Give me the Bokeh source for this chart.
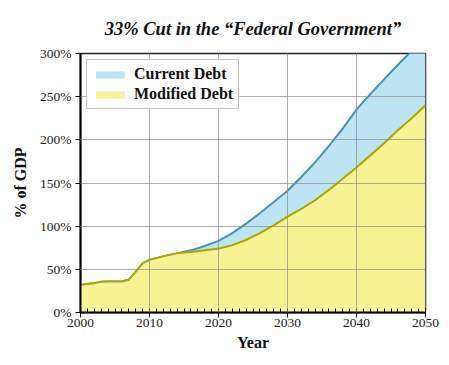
from bokeh.plotting import figure
from bokeh.models import Range1d, FixedTicker, Legend, LegendItem
from bokeh.embed import file_html
from bokeh.resources import INLINE

years = [2000, 2001, 2002, 2003, 2004, 2005, 2006, 2007, 2008, 2009, 2010,
         2011, 2012, 2013, 2014, 2015, 2016, 2017, 2018, 2019, 2020,
         2022, 2024, 2026, 2028, 2030, 2032, 2034, 2036, 2038, 2040,
         2042, 2044, 2046, 2048, 2050]
modified_debt = [32, 33, 34, 35.5, 36, 36, 36, 38, 47, 57, 61,
                 63, 65, 67, 68.5, 69.5, 70, 71, 72, 73, 74,
                 78, 84, 92, 101, 111, 120, 130, 142, 155, 168,
                 182, 196, 211, 225, 240]
current_debt = [32, 33, 34, 35.5, 36, 36, 36, 38, 47, 57, 61,
                63, 65, 67, 68.5, 70.5, 72, 74.5, 77, 80, 83,
                92, 103, 115, 128, 141, 157, 174, 193, 213, 235,
                253, 270, 287, 303, 320]

x_ticks = [2000, 2010, 2020, 2030, 2040, 2050]
x_tick_labels = ["2000", "2010", "2020", "2030", "2040", "2050"]
y_ticks = [0, 50, 100, 150, 200, 250, 300]
y_tick_labels = ["0%", "50%", "100%", "150%", "200%", "250%", "300%"]
minor_years = list(range(2000, 2051))

title_text = "33% Cut in the \u201cFederal Government\u201d"
serif = "Liberation Serif"

p = figure(width=449, height=365, output_backend="svg", toolbar_location=None,
           x_range=Range1d(2000, 2050), y_range=Range1d(0, 300),
           min_border_left=80, min_border_right=24, min_border_top=53,
           min_border_bottom=53)

p.title.text = title_text
p.title.align = "center"
p.title.text_font = serif
p.title.text_font_style = "bold italic"
p.title.text_font_size = "18.5px"
p.title.text_color = "#111111"
p.title.standoff = 29

blue = p.varea(x=years, y1=modified_debt, y2=current_debt,
               fill_color="#bde4f2", fill_alpha=1.0)
p.line(x=years, y=current_debt, line_color="#4d8fae", line_width=2)
yellow = p.varea(x=years, y1=[0] * len(years), y2=modified_debt,
                 fill_color="#f7f394", fill_alpha=1.0)
p.line(x=years, y=modified_debt, line_color="#a9a800", line_width=2)

p.xaxis.ticker = FixedTicker(ticks=x_ticks, minor_ticks=minor_years)
p.xaxis.major_label_overrides = dict(zip(x_ticks, x_tick_labels))
p.yaxis.ticker = FixedTicker(ticks=y_ticks, minor_ticks=[])
p.yaxis.major_label_overrides = dict(zip(y_ticks, y_tick_labels))

for ax in (p.xaxis, p.yaxis):
    ax.major_label_text_font = serif
    ax.major_label_text_font_size = "13.5px"
    ax.major_label_text_color = "#222222"
    ax.axis_label_text_font = serif
    ax.axis_label_text_font_style = "bold"
    ax.axis_label_text_font_size = "16px"
    ax.axis_label_text_color = "#111111"
    ax.axis_line_color = "black"
    ax.axis_line_width = 2
    ax.major_tick_line_color = "black"
    ax.major_tick_in = 0
    ax.major_tick_out = 5

p.xaxis.axis_label = "Year"
p.yaxis.axis_label = "% of GDP"
p.xaxis.minor_tick_in = 4
p.xaxis.minor_tick_out = 0
p.xaxis.minor_tick_line_color = "black"
p.yaxis.major_label_standoff = 4
p.xaxis.major_label_standoff = 1
p.yaxis.axis_label_standoff = 8
p.xaxis.axis_label_standoff = 4

p.xgrid.ticker = FixedTicker(ticks=x_ticks)
p.ygrid.ticker = FixedTicker(ticks=y_ticks)
p.grid.grid_line_color = "#8a8a8a"
p.grid.grid_line_width = 1
p.grid.level = "overlay"
p.grid.grid_line_alpha = 0.7

p.outline_line_color = "#222222"
p.outline_line_width = 1.5

legend = Legend(items=[LegendItem(label="Current Debt", renderers=[blue]),
                       LegendItem(label="Modified Debt", renderers=[yellow])],
                location="top_left")
legend.label_text_font = serif
legend.label_text_font_style = "bold"
legend.label_text_font_size = "16px"
legend.label_text_color = "#111111"
legend.glyph_width = 36
legend.glyph_height = 9
legend.label_height = 18
legend.border_line_color = "#888888"
legend.border_line_width = 1
legend.background_fill_color = "white"
legend.background_fill_alpha = 1.0
legend.spacing = 2
legend.padding = 5
legend.margin = 6
legend.label_standoff = 6
p.add_layout(legend)

p.background_fill_color = "white"
p.border_fill_color = "white"

open("out.html", "w").write(file_html(p, INLINE))
